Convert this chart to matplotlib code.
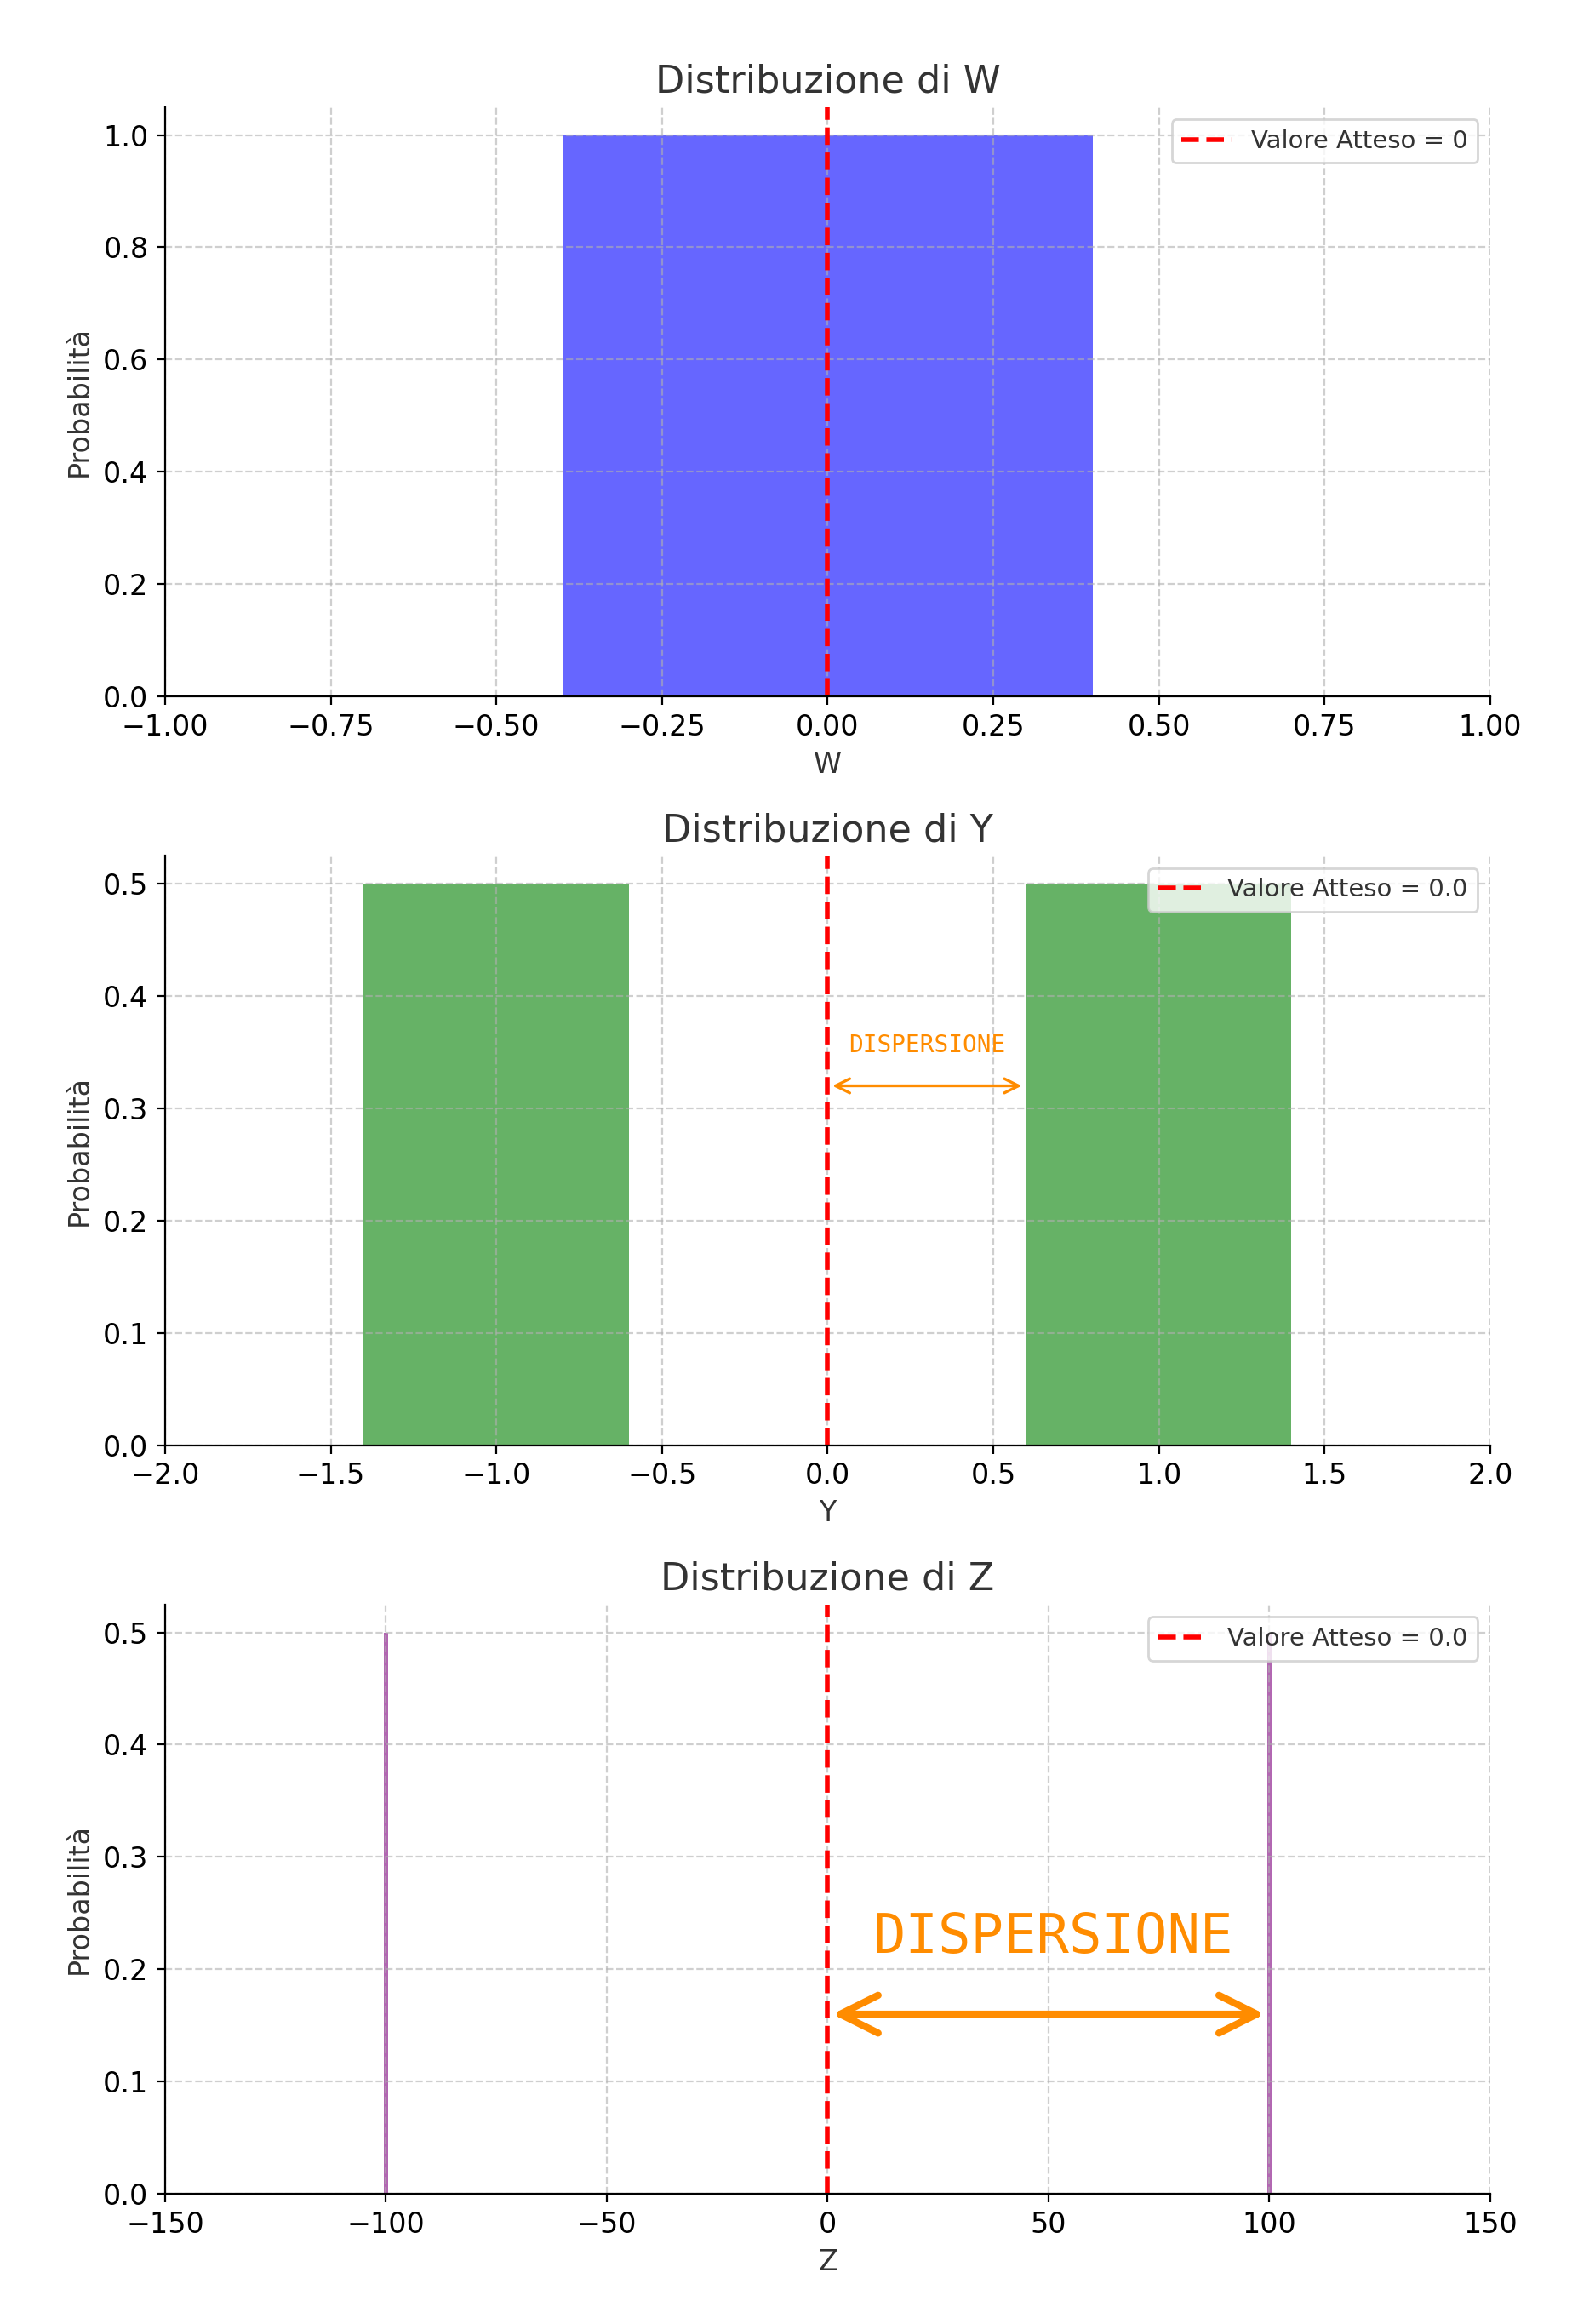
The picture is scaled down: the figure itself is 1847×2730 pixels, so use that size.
import matplotlib.pyplot as plt

# data
w_vals = [0]
w_probs = [1.0]
y_vals = [-1, 1]
y_probs = [0.5, 0.5]
z_vals = [-100, 100]
z_probs = [0.5, 0.5]

plt.rcParams['text.color'] = '#333333'
plt.rcParams['axes.labelcolor'] = '#333333'

fig, axes = plt.subplots(3, 1, figsize=(9.235, 13.65), dpi=200)
fig.subplots_adjust(left=0.105, right=0.948, top=0.954, bottom=0.056, hspace=0.27)

specs = [
    (axes[0], w_vals, w_probs, 'blue', 'W', (-1, 1), 'Valore Atteso = 0'),
    (axes[1], y_vals, y_probs, 'green', 'Y', (-2, 2), 'Valore Atteso = 0.0'),
    (axes[2], z_vals, z_probs, 'purple', 'Z', (-150, 150), 'Valore Atteso = 0.0'),
]
for ax, xs, ps, col, name, lim, lab in specs:
    ax.bar(xs, ps, width=0.8, color=col, alpha=0.6)
    ax.axvline(0, color='red', linestyle='--', lw=2, label=lab)
    ax.set_xlim(*lim)
    ax.set_title(f'Distribuzione di {name}', fontsize=16)
    ax.set_xlabel(name, fontsize=12)
    ax.set_ylabel('Probabilità', fontsize=12)
    ax.tick_params(labelsize=12)
    ax.grid(True, linestyle='--', alpha=0.6)
    ax.spines['top'].set_visible(False)
    ax.spines['right'].set_visible(False)
    ax.legend(loc='upper right', fontsize=10.5)

axes[1].annotate('', xy=(0.6, 0.32), xytext=(0, 0.32),
                 arrowprops=dict(arrowstyle='<->', color='darkorange', lw=1.2,
                                 mutation_scale=15))
axes[1].text(0.3, 0.35, 'DISPERSIONE', color='darkorange', fontsize=10,
             family='monospace', ha='center')
axes[2].annotate('', xy=(100, 0.16), xytext=(0, 0.16),
                 arrowprops=dict(arrowstyle='<->', color='darkorange', lw=3,
                                 mutation_scale=40))
axes[2].text(51, 0.215, 'DISPERSIONE', color='darkorange', fontsize=23,
             family='monospace', ha='center')

plt.savefig('out.png', dpi=200)
